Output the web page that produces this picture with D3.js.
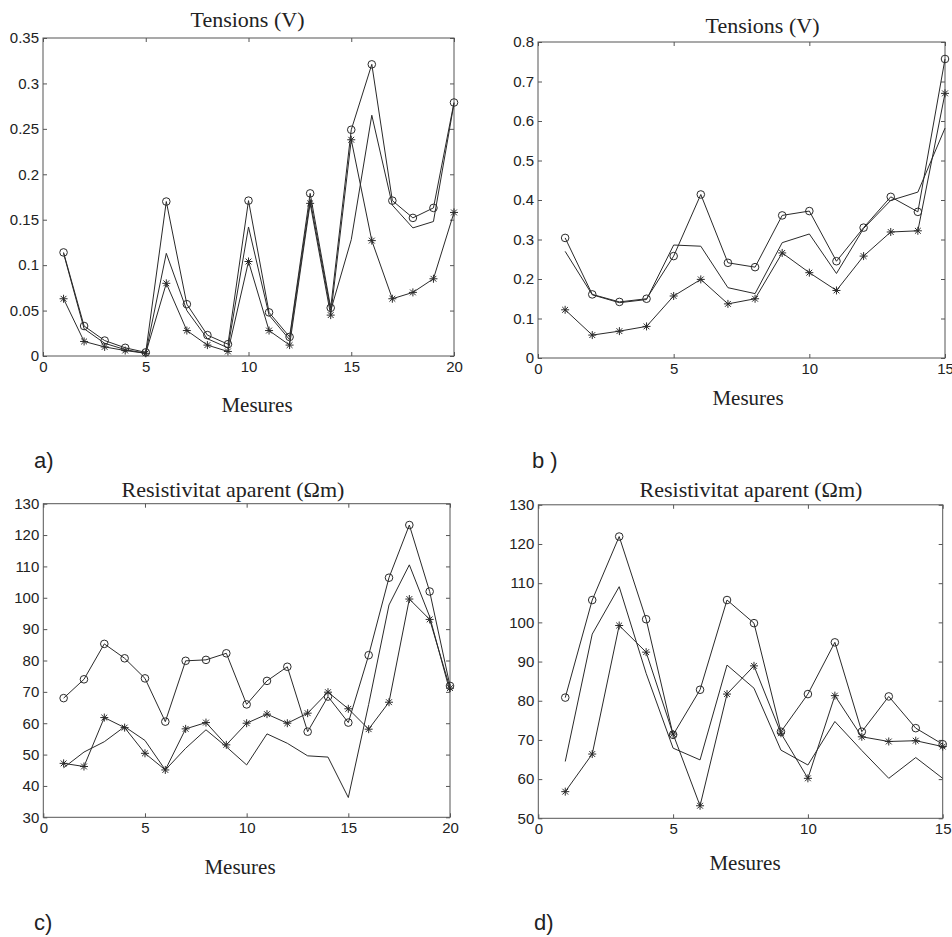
<!DOCTYPE html>
<html>
<head>
<meta charset="utf-8">
<script src="https://cdn.jsdelivr.net/npm/d3@7/dist/d3.min.js"></script>
<style>
  html, body { margin: 0; padding: 0; background: #fff; }
  svg { display: block; }
  .tick text { font-family: "Liberation Sans", Arial, Helvetica, sans-serif; font-size: 15px; fill: #222; }
  .serif { font-family: "Liberation Serif", "Times New Roman", Times, serif; fill: #222; }
  .tag { font-family: "Liberation Sans", Arial, Helvetica, sans-serif; font-size: 22px; fill: #222; }
</style>
</head>
<body>
<svg id="fig" width="952" height="937"></svg>
<script>
// Measurement indices
const mesures20 = [1, 2, 3, 4, 5, 6, 7, 8, 9, 10, 11, 12, 13, 14, 15, 16, 17, 18, 19, 20];
const mesures15 = [1, 2, 3, 4, 5, 6, 7, 8, 9, 10, 11, 12, 13, 14, 15];

// a) Tensions (V), 20 measurements
const aCircle = [0.114, 0.033, 0.017, 0.009, 0.004, 0.170, 0.057, 0.023, 0.013, 0.171, 0.048, 0.021, 0.179, 0.053, 0.249, 0.321, 0.171, 0.152, 0.163, 0.279];
const aPlain  = [0.113, 0.030, 0.014, 0.007, 0.003, 0.113, 0.050, 0.019, 0.009, 0.142, 0.045, 0.018, 0.172, 0.050, 0.128, 0.265, 0.166, 0.141, 0.148, 0.278];
const aStar   = [0.063, 0.016, 0.010, 0.006, 0.003, 0.080, 0.028, 0.012, 0.005, 0.104, 0.028, 0.012, 0.168, 0.045, 0.238, 0.127, 0.063, 0.070, 0.085, 0.158];

// b) Tensions (V), 15 measurements
const bCircle = [0.304, 0.161, 0.142, 0.150, 0.258, 0.414, 0.241, 0.230, 0.361, 0.372, 0.245, 0.330, 0.408, 0.370, 0.757];
const bPlain  = [0.270, 0.160, 0.140, 0.148, 0.286, 0.283, 0.178, 0.163, 0.292, 0.314, 0.214, 0.328, 0.399, 0.420, 0.582];
const bStar   = [0.122, 0.058, 0.068, 0.080, 0.157, 0.199, 0.137, 0.150, 0.266, 0.216, 0.171, 0.258, 0.319, 0.322, 0.670];

// c) Resistivitat aparent (Ωm), 20 measurements
const cCircle = [68.0, 74.0, 85.3, 80.7, 74.3, 60.5, 79.9, 80.2, 82.3, 66.0, 73.5, 78.0, 57.3, 68.5, 60.2, 81.7, 106.4, 123.2, 102.0, 71.9];
const cPlain  = [45.8, 50.8, 54.1, 58.9, 54.5, 45.1, 52.0, 57.9, 52.5, 46.7, 56.6, 53.6, 49.6, 49.2, 36.3, 66.0, 97.7, 110.5, 94.0, 70.0];
const cStar   = [47.2, 46.2, 61.8, 58.6, 50.4, 45.1, 58.2, 60.2, 53.1, 60.0, 62.9, 60.0, 63.2, 69.9, 64.6, 58.1, 66.7, 99.6, 93.1, 71.2];

// d) Resistivitat aparent (Ωm), 15 measurements
const dCircle = [80.8, 105.7, 121.9, 100.8, 71.3, 82.8, 105.7, 99.8, 72.1, 81.7, 94.9, 72.1, 81.1, 73.0, 68.9];
const dPlain  = [64.5, 97.0, 109.1, 87.0, 67.9, 64.9, 89.1, 83.2, 67.4, 63.6, 74.7, 67.3, 60.2, 65.5, 60.2];
const dStar   = [56.8, 66.4, 99.2, 92.4, 71.5, 53.2, 81.7, 88.9, 71.7, 60.2, 81.3, 70.8, 69.6, 69.8, 68.3];

// Tick values
const xTicks20 = [0, 5, 10, 15, 20];
const xTicks15 = [0, 5, 10, 15];
const yTicksA = [0, 0.05, 0.1, 0.15, 0.2, 0.25, 0.3, 0.35];
const yTicksB = [0, 0.1, 0.2, 0.3, 0.4, 0.5, 0.6, 0.7, 0.8];
const yTicksC = [30, 40, 50, 60, 70, 80, 90, 100, 110, 120, 130];
const yTicksD = [50, 60, 70, 80, 90, 100, 110, 120, 130];

// Text
const titleTension = "Tensions (V)";
const titleRes = "Resistivitat aparent (\u03A9m)";
const xLabel = "Mesures";

const svg = d3.select("#fig");
svg.append("rect").attr("width", 952).attr("height", 937).attr("fill", "#fff");

const panels = [
  { x: mesures20, series: [aCircle, aPlain, aStar], xDom: [0, 20], yDom: [0, 0.35], xTicks: xTicks20, yTicks: yTicksA,
    px: [43, 454], py: [356, 38], title: titleTension, tX: 247.5, tY: 27, mX: 257, mY: 411.5, tag: "a)", gX: 34, gY: 468 },
  { x: mesures15, series: [bCircle, bPlain, bStar], xDom: [0, 15], yDom: [0, 0.8], xTicks: xTicks15, yTicks: yTicksB,
    px: [538, 945], py: [358, 42], title: titleTension, tX: 762.5, tY: 33, mX: 748, mY: 405, tag: "b )", gX: 532, gY: 468 },
  { x: mesures20, series: [cCircle, cPlain, cStar], xDom: [0, 20], yDom: [30, 130], xTicks: xTicks20, yTicks: yTicksC,
    px: [43.3, 450], py: [817.3, 503.7], title: titleRes, tX: 233, tY: 496.7, mX: 240, mY: 874, tag: "c)", gX: 34, gY: 930 },
  { x: mesures15, series: [dCircle, dPlain, dStar], xDom: [0, 15], yDom: [50, 130], xTicks: xTicks15, yTicks: yTicksD,
    px: [538.3, 942.7], py: [818.3, 504.8], title: titleRes, tX: 751, tY: 496.7, mX: 745, mY: 870, tag: "d)", gX: 534, gY: 930 }
];

const ink = "#2a2a2a";
const frame = "#555";

panels.forEach(p => {
  const x = d3.scaleLinear().domain(p.xDom).range(p.px);
  const y = d3.scaleLinear().domain(p.yDom).range(p.py);
  const g = svg.append("g");
  const fmt = d => d3.format("~g")(+d.toFixed(4));

  // axes with inward ticks on all four sides
  g.append("g").attr("transform", `translate(0,${p.py[0]})`)
    .call(d3.axisBottom(x).tickValues(p.xTicks).tickSize(-4).tickPadding(5).tickFormat(fmt));
  g.append("g").attr("transform", `translate(${p.px[0]},0)`)
    .call(d3.axisLeft(y).tickValues(p.yTicks).tickSize(-4).tickPadding(4).tickFormat(fmt));
  g.append("g").attr("transform", `translate(0,${p.py[1]})`)
    .call(d3.axisTop(x).tickValues(p.xTicks).tickSize(-4).tickFormat(""));
  g.append("g").attr("transform", `translate(${p.px[1]},0)`)
    .call(d3.axisRight(y).tickValues(p.yTicks).tickSize(-4).tickFormat(""));
  g.selectAll(".domain").remove();
  g.selectAll(".tick line").attr("stroke", frame);

  g.append("rect")
    .attr("x", p.px[0]).attr("y", p.py[1])
    .attr("width", p.px[1] - p.px[0]).attr("height", p.py[0] - p.py[1])
    .attr("fill", "none").attr("stroke", frame).attr("stroke-width", 1);

  const line = d3.line().x((d, i) => x(p.x[i])).y(d => y(d));
  p.series.forEach(s => {
    g.append("path").datum(s).attr("d", line)
      .attr("fill", "none").attr("stroke", ink).attr("stroke-width", 1);
  });

  // circle markers
  g.selectAll(null).data(p.series[0]).enter().append("circle")
    .attr("cx", (d, i) => x(p.x[i])).attr("cy", d => y(d)).attr("r", 3.8)
    .attr("fill", "none").attr("stroke", ink).attr("stroke-width", 1);

  // asterisk markers
  const star = g.selectAll(null).data(p.series[2]).enter().append("g")
    .attr("transform", (d, i) => `translate(${x(p.x[i])},${y(d)})`);
  const r = 4, k = 2.9;
  [[-r, 0, r, 0], [0, -r, 0, r], [-k, -k, k, k], [-k, k, k, -k]].forEach(s => {
    star.append("line").attr("x1", s[0]).attr("y1", s[1]).attr("x2", s[2]).attr("y2", s[3])
      .attr("stroke", ink).attr("stroke-width", 1);
  });

  svg.append("text").attr("class", "serif").attr("x", p.tX).attr("y", p.tY)
    .attr("text-anchor", "middle").attr("font-size", 22).text(p.title);
  svg.append("text").attr("class", "serif").attr("x", p.mX).attr("y", p.mY)
    .attr("text-anchor", "middle").attr("font-size", 21).text(xLabel);
  svg.append("text").attr("class", "tag").attr("x", p.gX).attr("y", p.gY).text(p.tag);
});
</script>
</body>
</html>
